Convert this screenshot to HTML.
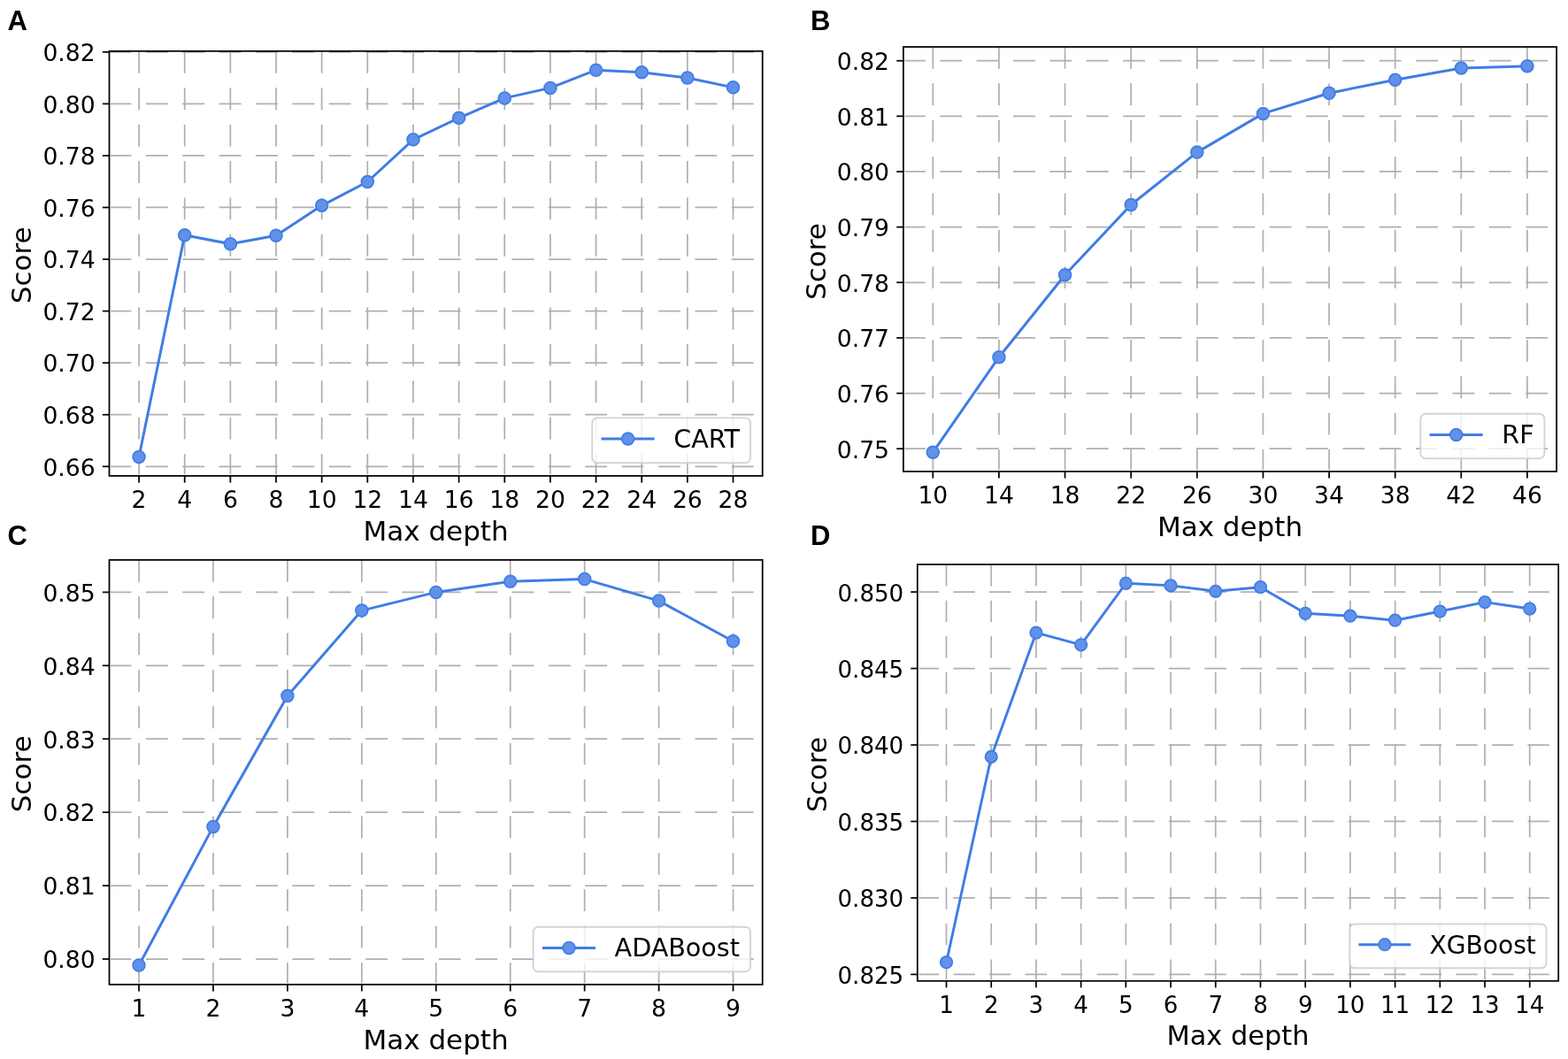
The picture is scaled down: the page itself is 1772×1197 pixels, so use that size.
<!DOCTYPE html>
<html><head><meta charset="utf-8"><title>Max depth vs Score</title>
<style>html,body{margin:0;padding:0;background:#fff;}svg{display:block;}</style></head>
<body>
<svg width="1772" height="1197" viewBox="0 0 1772 1197">
<rect width="1772" height="1197" fill="#fff"/>
<clipPath id="clipA"><rect x="123.5" y="57.8" width="738.2" height="480.1"/></clipPath>
<g stroke="#b0b0b0" stroke-width="1.75" stroke-dasharray="24.9 16.47" fill="none" clip-path="url(#clipA)">
<path d="M157.05 536.3V57.8" stroke-dashoffset="1.6"/>
<path d="M208.7 536.3V57.8" stroke-dashoffset="1.6"/>
<path d="M260.35 536.3V57.8" stroke-dashoffset="1.6"/>
<path d="M312 536.3V57.8" stroke-dashoffset="1.6"/>
<path d="M363.65 536.3V57.8" stroke-dashoffset="1.6"/>
<path d="M415.3 536.3V57.8" stroke-dashoffset="1.6"/>
<path d="M466.95 536.3V57.8" stroke-dashoffset="1.6"/>
<path d="M518.6 536.3V57.8" stroke-dashoffset="1.6"/>
<path d="M570.25 536.3V57.8" stroke-dashoffset="1.6"/>
<path d="M621.9 536.3V57.8" stroke-dashoffset="1.6"/>
<path d="M673.55 536.3V57.8" stroke-dashoffset="1.6"/>
<path d="M725.2 536.3V57.8" stroke-dashoffset="1.6"/>
<path d="M776.85 536.3V57.8" stroke-dashoffset="1.6"/>
<path d="M828.5 536.3V57.8" stroke-dashoffset="1.6"/>
<path d="M125.1 527.3H861.7" stroke-dashoffset="1.6"/>
<path d="M125.1 468.74H861.7" stroke-dashoffset="1.6"/>
<path d="M125.1 410.17H861.7" stroke-dashoffset="1.6"/>
<path d="M125.1 351.61H861.7" stroke-dashoffset="1.6"/>
<path d="M125.1 293.05H861.7" stroke-dashoffset="1.6"/>
<path d="M125.1 234.49H861.7" stroke-dashoffset="1.6"/>
<path d="M125.1 175.92H861.7" stroke-dashoffset="1.6"/>
<path d="M125.1 117.36H861.7" stroke-dashoffset="1.6"/>
<path d="M125.1 58.8H861.7" stroke-dashoffset="1.6"/>
</g>
<path d="M157.05 516.4 L208.7 265.7 L260.35 275.7 L312 266.3 L363.65 232.3 L415.3 205.5 L466.95 157.8 L518.6 133.3 L570.25 110.9 L621.9 99.4 L673.55 79.2 L725.2 81.8 L776.85 88 L828.5 98.8" fill="none" stroke="#3f7de5" stroke-width="3" stroke-linejoin="round" stroke-linecap="square" clip-path="url(#clipA)"/>
<circle cx="157.05" cy="516.4" r="6.9" fill="#6191e9" stroke="#3f7de5" stroke-width="1.7"/>
<circle cx="208.7" cy="265.7" r="6.9" fill="#6191e9" stroke="#3f7de5" stroke-width="1.7"/>
<circle cx="260.35" cy="275.7" r="6.9" fill="#6191e9" stroke="#3f7de5" stroke-width="1.7"/>
<circle cx="312" cy="266.3" r="6.9" fill="#6191e9" stroke="#3f7de5" stroke-width="1.7"/>
<circle cx="363.65" cy="232.3" r="6.9" fill="#6191e9" stroke="#3f7de5" stroke-width="1.7"/>
<circle cx="415.3" cy="205.5" r="6.9" fill="#6191e9" stroke="#3f7de5" stroke-width="1.7"/>
<circle cx="466.95" cy="157.8" r="6.9" fill="#6191e9" stroke="#3f7de5" stroke-width="1.7"/>
<circle cx="518.6" cy="133.3" r="6.9" fill="#6191e9" stroke="#3f7de5" stroke-width="1.7"/>
<circle cx="570.25" cy="110.9" r="6.9" fill="#6191e9" stroke="#3f7de5" stroke-width="1.7"/>
<circle cx="621.9" cy="99.4" r="6.9" fill="#6191e9" stroke="#3f7de5" stroke-width="1.7"/>
<circle cx="673.55" cy="79.2" r="6.9" fill="#6191e9" stroke="#3f7de5" stroke-width="1.7"/>
<circle cx="725.2" cy="81.8" r="6.9" fill="#6191e9" stroke="#3f7de5" stroke-width="1.7"/>
<circle cx="776.85" cy="88" r="6.9" fill="#6191e9" stroke="#3f7de5" stroke-width="1.7"/>
<circle cx="828.5" cy="98.8" r="6.9" fill="#6191e9" stroke="#3f7de5" stroke-width="1.7"/>
<rect x="123.5" y="57.8" width="738.2" height="480.1" fill="none" stroke="#000" stroke-width="1.75" stroke-linejoin="miter"/>
<g stroke="#000" stroke-width="1.75">
<path d="M157.05 537.9v7.67"/>
<path d="M208.7 537.9v7.67"/>
<path d="M260.35 537.9v7.67"/>
<path d="M312 537.9v7.67"/>
<path d="M363.65 537.9v7.67"/>
<path d="M415.3 537.9v7.67"/>
<path d="M466.95 537.9v7.67"/>
<path d="M518.6 537.9v7.67"/>
<path d="M570.25 537.9v7.67"/>
<path d="M621.9 537.9v7.67"/>
<path d="M673.55 537.9v7.67"/>
<path d="M725.2 537.9v7.67"/>
<path d="M776.85 537.9v7.67"/>
<path d="M828.5 537.9v7.67"/>
<path d="M123.5 527.3h-7.67"/>
<path d="M123.5 468.74h-7.67"/>
<path d="M123.5 410.17h-7.67"/>
<path d="M123.5 351.61h-7.67"/>
<path d="M123.5 293.05h-7.67"/>
<path d="M123.5 234.49h-7.67"/>
<path d="M123.5 175.92h-7.67"/>
<path d="M123.5 117.36h-7.67"/>
<path d="M123.5 58.8h-7.67"/>
</g>
<g font-family="DejaVu Sans, sans-serif" font-size="26.6" fill="#000">
<text x="157.05" y="574.2" text-anchor="middle">2</text>
<text x="208.7" y="574.2" text-anchor="middle">4</text>
<text x="260.35" y="574.2" text-anchor="middle">6</text>
<text x="312" y="574.2" text-anchor="middle">8</text>
<text x="363.65" y="574.2" text-anchor="middle">10</text>
<text x="415.3" y="574.2" text-anchor="middle">12</text>
<text x="466.95" y="574.2" text-anchor="middle">14</text>
<text x="518.6" y="574.2" text-anchor="middle">16</text>
<text x="570.25" y="574.2" text-anchor="middle">18</text>
<text x="621.9" y="574.2" text-anchor="middle">20</text>
<text x="673.55" y="574.2" text-anchor="middle">22</text>
<text x="725.2" y="574.2" text-anchor="middle">24</text>
<text x="776.85" y="574.2" text-anchor="middle">26</text>
<text x="828.5" y="574.2" text-anchor="middle">28</text>
<text x="107.6" y="537.6" text-anchor="end">0.66</text>
<text x="107.6" y="479.04" text-anchor="end">0.68</text>
<text x="107.6" y="420.47" text-anchor="end">0.70</text>
<text x="107.6" y="361.91" text-anchor="end">0.72</text>
<text x="107.6" y="303.35" text-anchor="end">0.74</text>
<text x="107.6" y="244.79" text-anchor="end">0.76</text>
<text x="107.6" y="186.22" text-anchor="end">0.78</text>
<text x="107.6" y="127.66" text-anchor="end">0.80</text>
<text x="107.6" y="69.1" text-anchor="end">0.82</text>
</g>
<text x="492.6" y="611.3" text-anchor="middle" font-family="DejaVu Sans, sans-serif" font-size="31">Max depth</text>
<text transform="translate(35 299.85) rotate(-90)" x="0" y="0" text-anchor="middle" font-family="DejaVu Sans, sans-serif" font-size="31">Score</text>
<rect x="669.2" y="472.4" width="178.8" height="50.9" rx="5.72" ry="5.72" fill="#fff" fill-opacity="0.8" stroke="#cccccc" stroke-opacity="0.85" stroke-width="1.9"/>
<path d="M679.5 496H739.6" stroke="#3f7de5" stroke-width="3" stroke-linecap="butt"/>
<circle cx="709.6" cy="496" r="6.9" fill="#6191e9" stroke="#3f7de5" stroke-width="1.7"/>
<text x="761.2" y="506" font-family="DejaVu Sans, sans-serif" font-size="28.6">CART</text>
<text x="8.5" y="33.8" font-family="Liberation Sans, Arial, sans-serif" font-weight="bold" font-size="31">A</text>
<clipPath id="clipB"><rect x="1020.9" y="53" width="738.2" height="479.9"/></clipPath>
<g stroke="#b0b0b0" stroke-width="1.75" stroke-dasharray="24.9 16.47" fill="none" clip-path="url(#clipB)">
<path d="M1054.3 531.3V53" stroke-dashoffset="1.6"/>
<path d="M1128.92 531.3V53" stroke-dashoffset="1.6"/>
<path d="M1203.55 531.3V53" stroke-dashoffset="1.6"/>
<path d="M1278.17 531.3V53" stroke-dashoffset="1.6"/>
<path d="M1352.8 531.3V53" stroke-dashoffset="1.6"/>
<path d="M1427.42 531.3V53" stroke-dashoffset="1.6"/>
<path d="M1502.04 531.3V53" stroke-dashoffset="1.6"/>
<path d="M1576.67 531.3V53" stroke-dashoffset="1.6"/>
<path d="M1651.29 531.3V53" stroke-dashoffset="1.6"/>
<path d="M1725.92 531.3V53" stroke-dashoffset="1.6"/>
<path d="M1022.5 507.2H1759.1" stroke-dashoffset="1.6"/>
<path d="M1022.5 444.56H1759.1" stroke-dashoffset="1.6"/>
<path d="M1022.5 381.91H1759.1" stroke-dashoffset="1.6"/>
<path d="M1022.5 319.27H1759.1" stroke-dashoffset="1.6"/>
<path d="M1022.5 256.63H1759.1" stroke-dashoffset="1.6"/>
<path d="M1022.5 193.98H1759.1" stroke-dashoffset="1.6"/>
<path d="M1022.5 131.34H1759.1" stroke-dashoffset="1.6"/>
<path d="M1022.5 68.7H1759.1" stroke-dashoffset="1.6"/>
</g>
<path d="M1054.3 511.2 L1128.92 403.7 L1203.55 310.7 L1278.17 231.5 L1352.8 172.1 L1427.42 128.4 L1502.04 105.2 L1576.67 90.3 L1651.29 77 L1725.92 74.8" fill="none" stroke="#3f7de5" stroke-width="3" stroke-linejoin="round" stroke-linecap="square" clip-path="url(#clipB)"/>
<circle cx="1054.3" cy="511.2" r="6.9" fill="#6191e9" stroke="#3f7de5" stroke-width="1.7"/>
<circle cx="1128.92" cy="403.7" r="6.9" fill="#6191e9" stroke="#3f7de5" stroke-width="1.7"/>
<circle cx="1203.55" cy="310.7" r="6.9" fill="#6191e9" stroke="#3f7de5" stroke-width="1.7"/>
<circle cx="1278.17" cy="231.5" r="6.9" fill="#6191e9" stroke="#3f7de5" stroke-width="1.7"/>
<circle cx="1352.8" cy="172.1" r="6.9" fill="#6191e9" stroke="#3f7de5" stroke-width="1.7"/>
<circle cx="1427.42" cy="128.4" r="6.9" fill="#6191e9" stroke="#3f7de5" stroke-width="1.7"/>
<circle cx="1502.04" cy="105.2" r="6.9" fill="#6191e9" stroke="#3f7de5" stroke-width="1.7"/>
<circle cx="1576.67" cy="90.3" r="6.9" fill="#6191e9" stroke="#3f7de5" stroke-width="1.7"/>
<circle cx="1651.29" cy="77" r="6.9" fill="#6191e9" stroke="#3f7de5" stroke-width="1.7"/>
<circle cx="1725.92" cy="74.8" r="6.9" fill="#6191e9" stroke="#3f7de5" stroke-width="1.7"/>
<rect x="1020.9" y="53" width="738.2" height="479.9" fill="none" stroke="#000" stroke-width="1.75" stroke-linejoin="miter"/>
<g stroke="#000" stroke-width="1.75">
<path d="M1054.3 532.9v7.67"/>
<path d="M1128.92 532.9v7.67"/>
<path d="M1203.55 532.9v7.67"/>
<path d="M1278.17 532.9v7.67"/>
<path d="M1352.8 532.9v7.67"/>
<path d="M1427.42 532.9v7.67"/>
<path d="M1502.04 532.9v7.67"/>
<path d="M1576.67 532.9v7.67"/>
<path d="M1651.29 532.9v7.67"/>
<path d="M1725.92 532.9v7.67"/>
<path d="M1020.9 507.2h-7.67"/>
<path d="M1020.9 444.56h-7.67"/>
<path d="M1020.9 381.91h-7.67"/>
<path d="M1020.9 319.27h-7.67"/>
<path d="M1020.9 256.63h-7.67"/>
<path d="M1020.9 193.98h-7.67"/>
<path d="M1020.9 131.34h-7.67"/>
<path d="M1020.9 68.7h-7.67"/>
</g>
<g font-family="DejaVu Sans, sans-serif" font-size="26.6" fill="#000">
<text x="1054.3" y="569.2" text-anchor="middle">10</text>
<text x="1128.92" y="569.2" text-anchor="middle">14</text>
<text x="1203.55" y="569.2" text-anchor="middle">18</text>
<text x="1278.17" y="569.2" text-anchor="middle">22</text>
<text x="1352.8" y="569.2" text-anchor="middle">26</text>
<text x="1427.42" y="569.2" text-anchor="middle">30</text>
<text x="1502.04" y="569.2" text-anchor="middle">34</text>
<text x="1576.67" y="569.2" text-anchor="middle">38</text>
<text x="1651.29" y="569.2" text-anchor="middle">42</text>
<text x="1725.92" y="569.2" text-anchor="middle">46</text>
<text x="1005" y="517.5" text-anchor="end">0.75</text>
<text x="1005" y="454.86" text-anchor="end">0.76</text>
<text x="1005" y="392.21" text-anchor="end">0.77</text>
<text x="1005" y="329.57" text-anchor="end">0.78</text>
<text x="1005" y="266.93" text-anchor="end">0.79</text>
<text x="1005" y="204.28" text-anchor="end">0.80</text>
<text x="1005" y="141.64" text-anchor="end">0.81</text>
<text x="1005" y="79" text-anchor="end">0.82</text>
</g>
<text x="1390" y="606.3" text-anchor="middle" font-family="DejaVu Sans, sans-serif" font-size="31">Max depth</text>
<text transform="translate(932.5 295.55) rotate(-90)" x="0" y="0" text-anchor="middle" font-family="DejaVu Sans, sans-serif" font-size="31">Score</text>
<rect x="1605.3" y="467.8" width="140.1" height="50.4" rx="5.72" ry="5.72" fill="#fff" fill-opacity="0.8" stroke="#cccccc" stroke-opacity="0.85" stroke-width="1.9"/>
<path d="M1615.6 491.4H1675.7" stroke="#3f7de5" stroke-width="3" stroke-linecap="butt"/>
<circle cx="1645.7" cy="491.4" r="6.9" fill="#6191e9" stroke="#3f7de5" stroke-width="1.7"/>
<text x="1697.3" y="501.4" font-family="DejaVu Sans, sans-serif" font-size="28.6">RF</text>
<text x="916" y="33.8" font-family="Liberation Sans, Arial, sans-serif" font-weight="bold" font-size="31">B</text>
<clipPath id="clipC"><rect x="123.5" y="632.9" width="738.2" height="479.9"/></clipPath>
<g stroke="#b0b0b0" stroke-width="1.75" stroke-dasharray="24.9 16.47" fill="none" clip-path="url(#clipC)">
<path d="M157 1111.2V632.9" stroke-dashoffset="1.6"/>
<path d="M240.94 1111.2V632.9" stroke-dashoffset="1.6"/>
<path d="M324.88 1111.2V632.9" stroke-dashoffset="1.6"/>
<path d="M408.82 1111.2V632.9" stroke-dashoffset="1.6"/>
<path d="M492.76 1111.2V632.9" stroke-dashoffset="1.6"/>
<path d="M576.7 1111.2V632.9" stroke-dashoffset="1.6"/>
<path d="M660.64 1111.2V632.9" stroke-dashoffset="1.6"/>
<path d="M744.58 1111.2V632.9" stroke-dashoffset="1.6"/>
<path d="M828.52 1111.2V632.9" stroke-dashoffset="1.6"/>
<path d="M125.1 1084H861.7" stroke-dashoffset="1.6"/>
<path d="M125.1 1001.08H861.7" stroke-dashoffset="1.6"/>
<path d="M125.1 918.16H861.7" stroke-dashoffset="1.6"/>
<path d="M125.1 835.24H861.7" stroke-dashoffset="1.6"/>
<path d="M125.1 752.32H861.7" stroke-dashoffset="1.6"/>
<path d="M125.1 669.4H861.7" stroke-dashoffset="1.6"/>
</g>
<path d="M157 1091.1 L240.94 934.4 L324.88 786.6 L408.82 690.1 L492.76 669.4 L576.7 657.2 L660.64 654.6 L744.58 679.1 L828.52 724.8" fill="none" stroke="#3f7de5" stroke-width="3" stroke-linejoin="round" stroke-linecap="square" clip-path="url(#clipC)"/>
<circle cx="157" cy="1091.1" r="6.9" fill="#6191e9" stroke="#3f7de5" stroke-width="1.7"/>
<circle cx="240.94" cy="934.4" r="6.9" fill="#6191e9" stroke="#3f7de5" stroke-width="1.7"/>
<circle cx="324.88" cy="786.6" r="6.9" fill="#6191e9" stroke="#3f7de5" stroke-width="1.7"/>
<circle cx="408.82" cy="690.1" r="6.9" fill="#6191e9" stroke="#3f7de5" stroke-width="1.7"/>
<circle cx="492.76" cy="669.4" r="6.9" fill="#6191e9" stroke="#3f7de5" stroke-width="1.7"/>
<circle cx="576.7" cy="657.2" r="6.9" fill="#6191e9" stroke="#3f7de5" stroke-width="1.7"/>
<circle cx="660.64" cy="654.6" r="6.9" fill="#6191e9" stroke="#3f7de5" stroke-width="1.7"/>
<circle cx="744.58" cy="679.1" r="6.9" fill="#6191e9" stroke="#3f7de5" stroke-width="1.7"/>
<circle cx="828.52" cy="724.8" r="6.9" fill="#6191e9" stroke="#3f7de5" stroke-width="1.7"/>
<rect x="123.5" y="632.9" width="738.2" height="479.9" fill="none" stroke="#000" stroke-width="1.75" stroke-linejoin="miter"/>
<g stroke="#000" stroke-width="1.75">
<path d="M157 1112.8v7.67"/>
<path d="M240.94 1112.8v7.67"/>
<path d="M324.88 1112.8v7.67"/>
<path d="M408.82 1112.8v7.67"/>
<path d="M492.76 1112.8v7.67"/>
<path d="M576.7 1112.8v7.67"/>
<path d="M660.64 1112.8v7.67"/>
<path d="M744.58 1112.8v7.67"/>
<path d="M828.52 1112.8v7.67"/>
<path d="M123.5 1084h-7.67"/>
<path d="M123.5 1001.08h-7.67"/>
<path d="M123.5 918.16h-7.67"/>
<path d="M123.5 835.24h-7.67"/>
<path d="M123.5 752.32h-7.67"/>
<path d="M123.5 669.4h-7.67"/>
</g>
<g font-family="DejaVu Sans, sans-serif" font-size="26.6" fill="#000">
<text x="157" y="1149.1" text-anchor="middle">1</text>
<text x="240.94" y="1149.1" text-anchor="middle">2</text>
<text x="324.88" y="1149.1" text-anchor="middle">3</text>
<text x="408.82" y="1149.1" text-anchor="middle">4</text>
<text x="492.76" y="1149.1" text-anchor="middle">5</text>
<text x="576.7" y="1149.1" text-anchor="middle">6</text>
<text x="660.64" y="1149.1" text-anchor="middle">7</text>
<text x="744.58" y="1149.1" text-anchor="middle">8</text>
<text x="828.52" y="1149.1" text-anchor="middle">9</text>
<text x="107.6" y="1094.3" text-anchor="end">0.80</text>
<text x="107.6" y="1011.38" text-anchor="end">0.81</text>
<text x="107.6" y="928.46" text-anchor="end">0.82</text>
<text x="107.6" y="845.54" text-anchor="end">0.83</text>
<text x="107.6" y="762.62" text-anchor="end">0.84</text>
<text x="107.6" y="679.7" text-anchor="end">0.85</text>
</g>
<text x="492.6" y="1186.2" text-anchor="middle" font-family="DejaVu Sans, sans-serif" font-size="31">Max depth</text>
<text transform="translate(35 874.85) rotate(-90)" x="0" y="0" text-anchor="middle" font-family="DejaVu Sans, sans-serif" font-size="31">Score</text>
<rect x="602.6" y="1047.7" width="245.4" height="50.6" rx="5.72" ry="5.72" fill="#fff" fill-opacity="0.8" stroke="#cccccc" stroke-opacity="0.85" stroke-width="1.9"/>
<path d="M612.9 1071.4H673" stroke="#3f7de5" stroke-width="3" stroke-linecap="butt"/>
<circle cx="643" cy="1071.4" r="6.9" fill="#6191e9" stroke="#3f7de5" stroke-width="1.7"/>
<text x="694.6" y="1081.4" font-family="DejaVu Sans, sans-serif" font-size="28.6">ADABoost</text>
<text x="8.5" y="615.7" font-family="Liberation Sans, Arial, sans-serif" font-weight="bold" font-size="31">C</text>
<clipPath id="clipD"><rect x="1036.8" y="638" width="724.4" height="470.8"/></clipPath>
<g stroke="#b0b0b0" stroke-width="1.72" stroke-dasharray="24.4 16.17" fill="none" clip-path="url(#clipD)">
<path d="M1069.5 1107.2V638" stroke-dashoffset="1.6"/>
<path d="M1120.21 1107.2V638" stroke-dashoffset="1.6"/>
<path d="M1170.92 1107.2V638" stroke-dashoffset="1.6"/>
<path d="M1221.63 1107.2V638" stroke-dashoffset="1.6"/>
<path d="M1272.34 1107.2V638" stroke-dashoffset="1.6"/>
<path d="M1323.05 1107.2V638" stroke-dashoffset="1.6"/>
<path d="M1373.76 1107.2V638" stroke-dashoffset="1.6"/>
<path d="M1424.47 1107.2V638" stroke-dashoffset="1.6"/>
<path d="M1475.18 1107.2V638" stroke-dashoffset="1.6"/>
<path d="M1525.89 1107.2V638" stroke-dashoffset="1.6"/>
<path d="M1576.6 1107.2V638" stroke-dashoffset="1.6"/>
<path d="M1627.31 1107.2V638" stroke-dashoffset="1.6"/>
<path d="M1678.02 1107.2V638" stroke-dashoffset="1.6"/>
<path d="M1728.73 1107.2V638" stroke-dashoffset="1.6"/>
<path d="M1038.4 1101.4H1761.2" stroke-dashoffset="1.6"/>
<path d="M1038.4 1014.94H1761.2" stroke-dashoffset="1.6"/>
<path d="M1038.4 928.48H1761.2" stroke-dashoffset="1.6"/>
<path d="M1038.4 842.02H1761.2" stroke-dashoffset="1.6"/>
<path d="M1038.4 755.56H1761.2" stroke-dashoffset="1.6"/>
<path d="M1038.4 669.1H1761.2" stroke-dashoffset="1.6"/>
</g>
<path d="M1069.5 1087.7 L1120.21 855.4 L1170.92 715.2 L1221.63 728.8 L1272.34 659.3 L1323.05 661.9 L1373.76 668.3 L1424.47 663.7 L1475.18 693.3 L1525.89 696.2 L1576.6 701.2 L1627.31 691 L1678.02 680.6 L1728.73 688.1" fill="none" stroke="#3f7de5" stroke-width="2.94" stroke-linejoin="round" stroke-linecap="square" clip-path="url(#clipD)"/>
<circle cx="1069.5" cy="1087.7" r="6.77" fill="#6191e9" stroke="#3f7de5" stroke-width="1.67"/>
<circle cx="1120.21" cy="855.4" r="6.77" fill="#6191e9" stroke="#3f7de5" stroke-width="1.67"/>
<circle cx="1170.92" cy="715.2" r="6.77" fill="#6191e9" stroke="#3f7de5" stroke-width="1.67"/>
<circle cx="1221.63" cy="728.8" r="6.77" fill="#6191e9" stroke="#3f7de5" stroke-width="1.67"/>
<circle cx="1272.34" cy="659.3" r="6.77" fill="#6191e9" stroke="#3f7de5" stroke-width="1.67"/>
<circle cx="1323.05" cy="661.9" r="6.77" fill="#6191e9" stroke="#3f7de5" stroke-width="1.67"/>
<circle cx="1373.76" cy="668.3" r="6.77" fill="#6191e9" stroke="#3f7de5" stroke-width="1.67"/>
<circle cx="1424.47" cy="663.7" r="6.77" fill="#6191e9" stroke="#3f7de5" stroke-width="1.67"/>
<circle cx="1475.18" cy="693.3" r="6.77" fill="#6191e9" stroke="#3f7de5" stroke-width="1.67"/>
<circle cx="1525.89" cy="696.2" r="6.77" fill="#6191e9" stroke="#3f7de5" stroke-width="1.67"/>
<circle cx="1576.6" cy="701.2" r="6.77" fill="#6191e9" stroke="#3f7de5" stroke-width="1.67"/>
<circle cx="1627.31" cy="691" r="6.77" fill="#6191e9" stroke="#3f7de5" stroke-width="1.67"/>
<circle cx="1678.02" cy="680.6" r="6.77" fill="#6191e9" stroke="#3f7de5" stroke-width="1.67"/>
<circle cx="1728.73" cy="688.1" r="6.77" fill="#6191e9" stroke="#3f7de5" stroke-width="1.67"/>
<rect x="1036.8" y="638" width="724.4" height="470.8" fill="none" stroke="#000" stroke-width="1.72" stroke-linejoin="miter"/>
<g stroke="#000" stroke-width="1.72">
<path d="M1069.5 1108.8v7.52"/>
<path d="M1120.21 1108.8v7.52"/>
<path d="M1170.92 1108.8v7.52"/>
<path d="M1221.63 1108.8v7.52"/>
<path d="M1272.34 1108.8v7.52"/>
<path d="M1323.05 1108.8v7.52"/>
<path d="M1373.76 1108.8v7.52"/>
<path d="M1424.47 1108.8v7.52"/>
<path d="M1475.18 1108.8v7.52"/>
<path d="M1525.89 1108.8v7.52"/>
<path d="M1576.6 1108.8v7.52"/>
<path d="M1627.31 1108.8v7.52"/>
<path d="M1678.02 1108.8v7.52"/>
<path d="M1728.73 1108.8v7.52"/>
<path d="M1036.8 1101.4h-7.52"/>
<path d="M1036.8 1014.94h-7.52"/>
<path d="M1036.8 928.48h-7.52"/>
<path d="M1036.8 842.02h-7.52"/>
<path d="M1036.8 755.56h-7.52"/>
<path d="M1036.8 669.1h-7.52"/>
</g>
<g font-family="DejaVu Sans, sans-serif" font-size="26.1" fill="#000">
<text x="1069.5" y="1145.1" text-anchor="middle">1</text>
<text x="1120.21" y="1145.1" text-anchor="middle">2</text>
<text x="1170.92" y="1145.1" text-anchor="middle">3</text>
<text x="1221.63" y="1145.1" text-anchor="middle">4</text>
<text x="1272.34" y="1145.1" text-anchor="middle">5</text>
<text x="1323.05" y="1145.1" text-anchor="middle">6</text>
<text x="1373.76" y="1145.1" text-anchor="middle">7</text>
<text x="1424.47" y="1145.1" text-anchor="middle">8</text>
<text x="1475.18" y="1145.1" text-anchor="middle">9</text>
<text x="1525.89" y="1145.1" text-anchor="middle">10</text>
<text x="1576.6" y="1145.1" text-anchor="middle">11</text>
<text x="1627.31" y="1145.1" text-anchor="middle">12</text>
<text x="1678.02" y="1145.1" text-anchor="middle">13</text>
<text x="1728.73" y="1145.1" text-anchor="middle">14</text>
<text x="1021.2" y="1111.8" text-anchor="end">0.825</text>
<text x="1021.2" y="1025.34" text-anchor="end">0.830</text>
<text x="1021.2" y="938.88" text-anchor="end">0.835</text>
<text x="1021.2" y="852.42" text-anchor="end">0.840</text>
<text x="1021.2" y="765.96" text-anchor="end">0.845</text>
<text x="1021.2" y="679.5" text-anchor="end">0.850</text>
</g>
<text x="1399" y="1181.3" text-anchor="middle" font-family="DejaVu Sans, sans-serif" font-size="30.4">Max depth</text>
<text transform="translate(934 875.4) rotate(-90)" x="0" y="0" text-anchor="middle" font-family="DejaVu Sans, sans-serif" font-size="30.4">Score</text>
<rect x="1525.3" y="1044.5" width="222.1" height="49.8" rx="5.62" ry="5.62" fill="#fff" fill-opacity="0.8" stroke="#cccccc" stroke-opacity="0.85" stroke-width="1.86"/>
<path d="M1535.4 1067.7H1594.36" stroke="#3f7de5" stroke-width="2.94" stroke-linecap="butt"/>
<circle cx="1564.93" cy="1067.7" r="6.77" fill="#6191e9" stroke="#3f7de5" stroke-width="1.67"/>
<text x="1615.55" y="1077.51" font-family="DejaVu Sans, sans-serif" font-size="28.1">XGBoost</text>
<text x="916" y="615.7" font-family="Liberation Sans, Arial, sans-serif" font-weight="bold" font-size="31">D</text>
</svg>
</body></html>
